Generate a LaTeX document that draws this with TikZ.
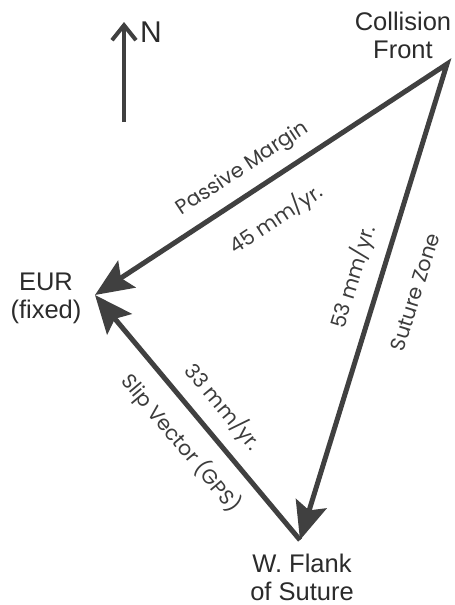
\documentclass[tikz,border=0pt]{standalone}
\usepackage{fontspec}
\setmainfont{Liberation Sans}
\newfontfamily\lblfont{Poppins}
\usetikzlibrary{arrows.meta}
\definecolor{ink}{HTML}{404040}
\definecolor{txt}{HTML}{2B2B2B}
\definecolor{lbltxt}{HTML}{3C3C3C}
\begin{document}
\begin{tikzpicture}[x=1pt,y=-1pt,
  head/.tip={Stealth[length=38pt,width=32pt,inset=7pt]},
  vecline/.style={draw=ink, line width=5pt, line join=miter},
  place/.style={font=\fontsize{25.5}{27.5}\selectfont, text=txt, align=center, inner sep=0pt, anchor=north},
  lbl/.style={font=\lblfont\fontsize{20.5}{22}\selectfont, text=lbltxt, inner sep=0pt}]
\useasboundingbox (0,0) rectangle (455,605);
\coordinate (A) at (447,64);
\coordinate (B) at (95,295);
\coordinate (C) at (300,540);
\coordinate (Nb) at (124,122);
\coordinate (Nt) at (124,22);
% vectors
\draw[vecline, head-head] (B) -- (A) -- (C);
\draw[vecline, -head] (C) -- (B);
% north arrow
\draw[ink, line width=4pt, -{Straight Barb[length=15pt,width=24pt]}] (Nb) -- (Nt);
\node[font=\fontsize{30}{32}\selectfont, text=txt, anchor=base west, inner sep=0pt] (N) at (140,42) {N};
% place names
\node[place] (cf) at (403,12) {Collision\\Front};
\node[place] (eur) at (46,273) {EUR\\(fixed)};
\node[place] (wf) at (302,554) {W. Flank\\of Suture};
% edge labels
\node[lbl, rotate=33.3] (pm) at (243,169) {Passive Margin};
\node[lbl, rotate=33.3] (v45) at (276,219) {45 mm/yr.};
\node[lbl, rotate=72.8] (v53) at (353,277) {53 mm/yr.};
\node[lbl, rotate=72.8] (sz) at (415,292) {Suture Zone};
\node[lbl, rotate=-50.1] (v33) at (223,407) {33 mm/yr.};
\node[lbl, rotate=-50.1] (sv) at (181,443) {Slip Vector (GPS)};
\end{tikzpicture}
\end{document}
